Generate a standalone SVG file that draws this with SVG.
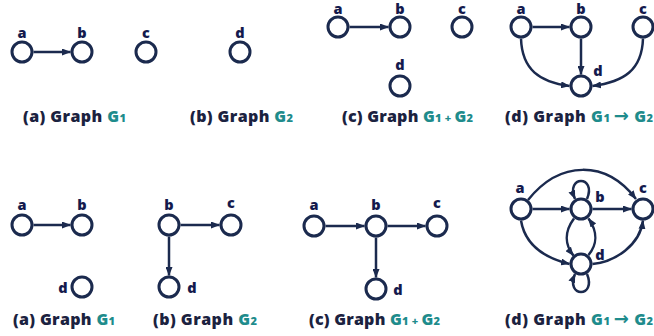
<svg xmlns="http://www.w3.org/2000/svg" width="654" height="336" viewBox="0 0 654 336">
<defs>
<marker id="ah" markerUnits="userSpaceOnUse" markerWidth="9" markerHeight="7" refX="8.5" refY="3.5" orient="auto">
<path d="M0,0 L9,3.5 L0,7 z" fill="#1b2a4e"/>
</marker>
<style>
.n{fill:#fff;stroke:#1b2a4e;stroke-width:3}
.e{fill:none;stroke:#1b2a4e;stroke-width:2.5;marker-end:url(#ah)}
.l{font-family:"Open Sans","Liberation Sans",sans-serif;font-weight:800;font-size:14.5px;fill:#141a4d;text-anchor:middle}
.cap{font-family:"Open Sans","Liberation Sans",sans-serif;font-weight:800;font-size:16px;fill:#1b2240}
.g{fill:#1e8c8c}
.s{font-size:11px}
.ar{font-family:"DejaVu Sans",sans-serif;font-weight:bold;font-size:18px}
</style>
</defs>
<rect width="654" height="336" fill="#fff"/>
<g id="connectors">
<path class="e" d="M33.5,52 L70.5,52"/>
<path class="e" d="M349.5,27 L388.5,27"/>
<path class="e" d="M532.5,27 L569.5,27"/>
<path class="e" d="M581,38.5 L581,74.5"/>
<path class="e" d="M521,38.5 C522,70 540,82 569.5,86"/>
<path class="e" d="M643,38.5 C642,70 624,82 592.5,86"/>
<path class="e" d="M33.5,225 L70.5,225"/>
<path class="e" d="M180.5,225 L219.5,225"/>
<path class="e" d="M169,236.5 L169,275.5"/>
<path class="e" d="M325.5,226 L364.5,226"/>
<path class="e" d="M387.5,226 L425.5,226"/>
<path class="e" d="M376,237.5 L376,277.5"/>
<path class="e" d="M532.5,209 L569.5,209"/>
<path class="e" d="M592.5,209 L631.5,209"/>
<path class="e" d="M528,200 C560,160 606,160 636,199"/>
<path class="e" d="M521,220.5 C525,245 545,258 569.5,264"/>
<path class="e" d="M592.5,264 C615,262 640,245 643,220.5"/>
<path class="e" d="M574,218.5 C564,232 565,245 573.5,255.5"/>
<path class="e" d="M588.5,255 C597,245 598,232 588.5,218.5"/>
<path class="e" d="M587,199 C597,175 565,175 575,199"/>
<path class="e" d="M587,274 C597,298 565,298 575,274"/>
</g>
<g id="t-a"><circle class="n" cx="22" cy="52" r="10"/><text class="l" x="22" y="38">a</text></g>
<g id="t-b"><circle class="n" cx="82" cy="52" r="10"/><text class="l" x="82" y="38">b</text></g>
<g id="t-c"><circle class="n" cx="146" cy="52" r="10"/><text class="l" x="146" y="38">c</text></g>
<g id="t-d"><circle class="n" cx="240" cy="52" r="10"/><text class="l" x="240" y="38">d</text></g>
<g id="tc-a"><circle class="n" cx="338" cy="27" r="10"/><text class="l" x="338" y="13.5">a</text></g>
<g id="tc-b"><circle class="n" cx="400" cy="27" r="10"/><text class="l" x="400" y="13.5">b</text></g>
<g id="tc-c"><circle class="n" cx="462" cy="27" r="10"/><text class="l" x="462" y="13.5">c</text></g>
<g id="tc-d"><circle class="n" cx="400" cy="86" r="10"/><text class="l" x="400" y="70">d</text></g>
<g id="td-a"><circle class="n" cx="521" cy="27" r="10"/><text class="l" x="521" y="13.5">a</text></g>
<g id="td-b"><circle class="n" cx="581" cy="27" r="10"/><text class="l" x="581" y="13.5">b</text></g>
<g id="td-c"><circle class="n" cx="643" cy="27" r="10"/><text class="l" x="643" y="13.5">c</text></g>
<g id="td-d"><circle class="n" cx="581" cy="86" r="10"/><text class="l" x="598" y="76">d</text></g>
<g id="ba-a"><circle class="n" cx="22" cy="225" r="10"/><text class="l" x="22" y="210">a</text></g>
<g id="ba-b"><circle class="n" cx="82" cy="225" r="10"/><text class="l" x="82" y="210">b</text></g>
<g id="ba-d"><circle class="n" cx="82" cy="287" r="10"/><text class="l" x="63" y="293">d</text></g>
<g id="bb-b"><circle class="n" cx="169" cy="225" r="10"/><text class="l" x="169" y="210">b</text></g>
<g id="bb-c"><circle class="n" cx="231" cy="225" r="10"/><text class="l" x="231" y="208">c</text></g>
<g id="bb-d"><circle class="n" cx="169" cy="287" r="10"/><text class="l" x="192" y="293">d</text></g>
<g id="bc-a"><circle class="n" cx="314" cy="226" r="10"/><text class="l" x="314" y="210">a</text></g>
<g id="bc-b"><circle class="n" cx="376" cy="226" r="10"/><text class="l" x="376" y="210">b</text></g>
<g id="bc-c"><circle class="n" cx="437" cy="226" r="10"/><text class="l" x="437" y="208">c</text></g>
<g id="bc-d"><circle class="n" cx="376" cy="289" r="10"/><text class="l" x="398" y="295">d</text></g>
<g id="bd-a"><circle class="n" cx="521" cy="209" r="10"/><text class="l" x="520" y="193">a</text></g>
<g id="bd-b"><circle class="n" cx="581" cy="209" r="10"/><text class="l" x="600" y="202">b</text></g>
<g id="bd-c"><circle class="n" cx="643" cy="209" r="10"/><text class="l" x="643" y="193">c</text></g>
<g id="bd-d"><circle class="n" cx="581" cy="264" r="10"/><text class="l" x="600" y="260">d</text></g>
<g id="captions">
<text class="cap" x="23" y="122" textLength="103" lengthAdjust="spacing">(a) Graph <tspan class="g">G</tspan><tspan class="g s">1</tspan></text>
<text class="cap" x="190" y="122" textLength="103" lengthAdjust="spacing">(b) Graph <tspan class="g">G</tspan><tspan class="g s">2</tspan></text>
<text class="cap" x="342" y="122" textLength="131" lengthAdjust="spacing">(c) Graph <tspan class="g">G</tspan><tspan class="g s">1 + </tspan><tspan class="g">G</tspan><tspan class="g s">2</tspan></text>
<text class="cap" x="505" y="122" textLength="148" lengthAdjust="spacing">(d) Graph <tspan class="g">G</tspan><tspan class="g s">1 </tspan><tspan class="g ar">→</tspan><tspan class="g"> G</tspan><tspan class="g s">2</tspan></text>
<text class="cap" x="13" y="325" textLength="102" lengthAdjust="spacing">(a) Graph <tspan class="g">G</tspan><tspan class="g s">1</tspan></text>
<text class="cap" x="153" y="325" textLength="104" lengthAdjust="spacing">(b) Graph <tspan class="g">G</tspan><tspan class="g s">2</tspan></text>
<text class="cap" x="309" y="325" textLength="131" lengthAdjust="spacing">(c) Graph <tspan class="g">G</tspan><tspan class="g s">1 + </tspan><tspan class="g">G</tspan><tspan class="g s">2</tspan></text>
<text class="cap" x="505" y="325" textLength="148" lengthAdjust="spacing">(d) Graph <tspan class="g">G</tspan><tspan class="g s">1 </tspan><tspan class="g ar">→</tspan><tspan class="g"> G</tspan><tspan class="g s">2</tspan></text>
</g>
</svg>
